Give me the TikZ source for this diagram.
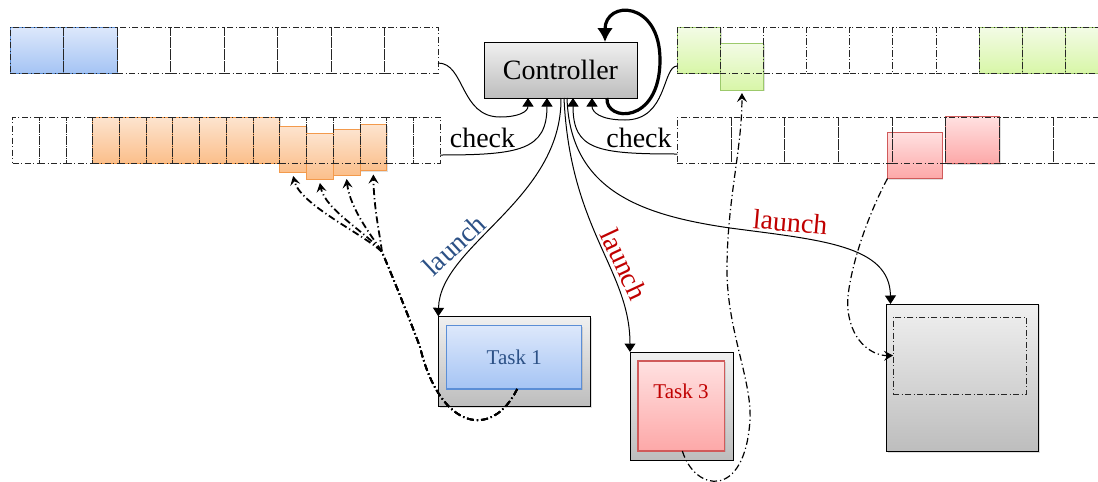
\documentclass[tikz,border=0pt]{standalone}
\usepackage{fontspec}
\setmainfont{Liberation Serif}
\usetikzlibrary{arrows.meta,shadows,calc}

\definecolor{bluetop}{HTML}{DDE8FB}
\definecolor{bluebot}{HTML}{A5C4F4}
\definecolor{blueedge}{HTML}{5B8ED6}
\definecolor{orangetop}{HTML}{FDE4CF}
\definecolor{orangebot}{HTML}{FBBF8B}
\definecolor{orangeedge}{HTML}{F39A4C}
\definecolor{greentop}{HTML}{F3FBE6}
\definecolor{greenbot}{HTML}{D8F6A8}
\definecolor{greenedge}{HTML}{9CC96B}
\definecolor{redtop}{HTML}{FFE1E1}
\definecolor{redbot}{HTML}{FDA8A8}
\definecolor{rededge}{HTML}{D05A5A}
\definecolor{graytop}{HTML}{F0F0F0}
\definecolor{graybot}{HTML}{BDBDBD}
\definecolor{launchblue}{HTML}{2C5186}
\definecolor{launchred}{HTML}{C00000}

\begin{document}
\begin{tikzpicture}[x=1pt,y=-1pt,
  dashdot/.style={dash pattern=on 6pt off 2.5pt on 1pt off 2.5pt},
  softshadow/.style={drop shadow={shadow xshift=1.2pt,shadow yshift=-1.2pt,opacity=0.25}},
  cellbase/.style={rectangle,inner sep=0pt,outer sep=0pt,anchor=north west,line width=0.8pt},
  gridcell/.style={cellbase,draw=black!85,dashdot},
  bluecell/.style={cellbase,top color=bluetop,bottom color=bluebot,draw=blueedge,softshadow},
  orangecell/.style={cellbase,top color=orangetop,bottom color=orangebot,draw=orangeedge,softshadow},
  greencell/.style={cellbase,top color=greentop,bottom color=greenbot,draw=greenedge,softshadow},
  redcell/.style={cellbase,top color=redtop,bottom color=redbot,draw=rededge,softshadow},
  graybox/.style={rectangle,inner sep=0pt,outer sep=0pt,anchor=north west,
    top color=graytop,bottom color=graybot,draw=black,line width=1pt,softshadow},
  conn/.style={line width=1pt,-{Triangle[width=11pt,length=8.5pt]}},
  trace/.style={line width=1.2pt,dash pattern=on 7pt off 3pt on 1.2pt off 3pt,
    -{Stealth[width=10pt,length=9pt,inset=3.5pt]}},
  fantrace/.style={trace,line width=1.8pt},
  lbl/.style={inner sep=0pt,font=\fontsize{28}{32}\selectfont},
  tasklbl/.style={inner sep=0pt,font=\fontsize{21}{24}\selectfont}]

\useasboundingbox (0,0) rectangle (1098,482);
\clip (0,0) rectangle (1098,482);

% ---- queue A (top left): two blue slots
\node[bluecell,minimum width=53.5pt,minimum height=46pt] (ablue0) at (10,27) {};
\node[bluecell,minimum width=53.5pt,minimum height=46pt] (ablue1) at (63.5,27) {};
\foreach \i in {0,...,7}
  \node[gridcell,minimum width=53.5pt,minimum height=46pt] (a\i) at ({10+53.5*\i},27) {};

% ---- queue B (lower left): orange slots, four of them pulled out
\foreach \i in {3,...,9}
  \node[orangecell,minimum width=26.73pt,minimum height=46pt] (bo\i) at ({12.5+26.73*\i},117) {};
\foreach \i/\y in {10/126,11/133,12/129,13/124.5}
  \node[orangecell,minimum width=26.73pt,minimum height=46pt] (bo\i) at ({12.5+26.73*\i},\y) {};
\foreach \i in {0,...,15}
  \node[gridcell,minimum width=26.73pt,minimum height=46pt] (b\i) at ({12.5+26.73*\i},117) {};

% ---- queue C (top right): green slots
\foreach \i in {0,7,8,9}
  \node[greencell,minimum width=43.1pt,minimum height=46pt] (cg\i) at ({677.3+43.1*\i},27) {};
\node[greencell,minimum width=43.1pt,minimum height=47pt] (g1) at (720.4,43) {};
\foreach \i in {0,...,9}
  \node[gridcell,minimum width=43.1pt,minimum height=46pt] (c\i) at ({677.3+43.1*\i},27) {};

% ---- queue D (lower right): red slots
\node[redcell,minimum width=53.7pt,minimum height=47pt] (dr5) at ({677.3+53.7*5},116.5) {};
\node[redcell,minimum width=54.4pt,minimum height=46.5pt] (r1) at (887.5,132) {};
\foreach \i in {0,...,7}
  \node[gridcell,minimum width=53.7pt,minimum height=46pt] (d\i) at ({677.3+53.7*\i},117) {};

% ---- controller
\node[graybox,minimum width=153pt,minimum height=56pt,font=\fontsize{28}{32}\selectfont]
  (ctrl) at (484,42) {Controller};

% ---- tasks
\node[graybox,minimum width=152.4pt,minimum height=90.4pt] (t1) at (438.3,316.3) {};
\node[cellbase,top color=bluetop,bottom color=bluebot,draw=blueedge,line width=1.2pt,softshadow,
  minimum width=135pt,minimum height=63.3pt,tasklbl,text=launchblue] (t1in) at (446.7,325.7) {Task 1};

\node[graybox,minimum width=103pt,minimum height=108pt] (t3) at (630,352) {};
\node[cellbase,top color=redtop,bottom color=redbot,draw=rededge,line width=1.2pt,softshadow,
  minimum width=86.7pt,minimum height=90pt] (t3in) at (638,361) {};
\node[tasklbl,text=launchred,anchor=base] (t3lbl) at (681,398) {Task 3};

\node[graybox,minimum width=152pt,minimum height=147.5pt] (big) at (886.5,304) {};
\node[cellbase,draw=black!85,dashdot,minimum width=133.7pt,minimum height=77pt] (bigin) at (893,317) {};

% ---- queues reporting to the controller
\draw[conn] ($(a7.south east)+(0,-10)$) .. controls (465,63) and (460,117) .. (500,117)
  .. controls (518,117) and ($(ctrl.south west)+(44,14)$) .. ($(ctrl.south west)+(44,0)$);
\draw[conn] ($(b15.east)+(0,15)$) .. controls (520,155) and ($(ctrl.south west)+(63,52)$) .. ($(ctrl.south west)+(63,0)$);
\draw[conn] ($(d0.west)+(0,14)$) .. controls (597,154) and ($(ctrl.south west)+(89,52)$) .. ($(ctrl.south west)+(89,0)$);
\draw[conn] ($(c0.west)+(0,16)$) .. controls (662,66) and (668,120) .. (625,120)
  .. controls (600,120) and ($(ctrl.south west)+(108,14)$) .. ($(ctrl.south west)+(108,0)$);
\node[lbl,anchor=base] (chkL) at (482.5,147) {check};
\node[lbl,anchor=base] (chkR) at (639,147) {check};

% ---- controller self loop
\draw[line width=3.2pt,-{Latex[width=16pt,length=14pt]}]
  ($(ctrl.south east)+(-30,0)$) .. controls (605,122) and (660,125) .. (660,60)
  .. controls (660,0) and (605,0) .. ($(ctrl.north east)+(-32,0)$);

% ---- launches
\draw[conn] ($(ctrl.south)+(0.5,0)$) .. controls (562,200) and (440,245) .. (t1.north west);
\draw[conn] ($(ctrl.south)+(3.5,0)$) .. controls (570,230) and (630,270) .. (t3.north west);
\draw[conn] ($(ctrl.south)+(6.5,0)$) .. controls (570,190) and (640,215) .. (730,228)
  .. controls (820,240) and (890,245) .. ($(big.north west)+(4,0)$);
\node[lbl,text=launchblue,rotate=43] (lnch1) at (454,245) {launch};
\node[lbl,text=launchred,rotate=-65] (lnch3) at (624,264) {launch};
\node[lbl,text=launchred,rotate=-5,anchor=base] (lnchB) at (789.5,231.5) {launch};

% ---- data traces
\foreach \k/\ax/\ay/\bx/\by in {10/365/235/300/205,11/370/235/325/210,12/375/240/350/210,13/380/235/374/210}
  \draw[fantrace] ($(t1in.south)+(3,0)$) .. controls (492,440) and (440,430) .. (420,347)
    .. controls (410,320) and (392,275) .. (382,252)
    .. controls (\ax,\ay) and (\bx,\by) .. ($(bo\k.south)+(0,4)$);
\draw[trace] ($(t3in.south)+(1,0)$) .. controls (695,492) and (745,500) .. (750,420)
  .. controls (752,380) and (727,330) .. (727,270)
  .. controls (727,200) and (742,150) .. ($(g1.south)+(0,3)$);
\draw[trace] (r1.south west) .. controls (860,230) and (845,290) .. (848,310)
  .. controls (852,345) and (875,356) .. (bigin.west);
\end{tikzpicture}
\end{document}
